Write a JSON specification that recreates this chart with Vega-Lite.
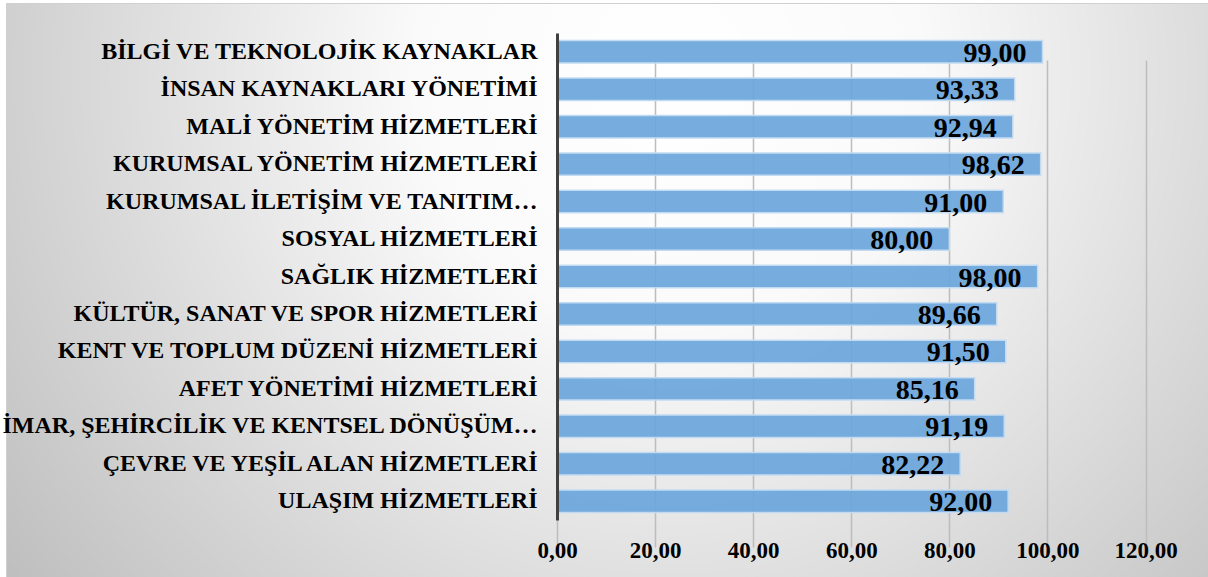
{
  "$schema": "https://vega.github.io/schema/vega-lite/v6.json",
  "width": 1202,
  "height": 574,
  "autosize": "none",
  "padding": {"left": 6, "top": 3, "right": 0, "bottom": 0},
  "background": "#ffffff",
  "view": {
    "fill": {
      "gradient": "radial",
      "x1": 0.55, "y1": 0.32, "r1": 0,
      "x2": 0.55, "y2": 0.32, "r2": 0.7,
      "stops": [
        {"offset": 0, "color": "#ffffff"},
        {"offset": 0.3, "color": "#fafafa"},
        {"offset": 1, "color": "#bdbdbd"}
      ]
    },
    "stroke": "#d0d0d0",
    "strokeWidth": 1
  },
  "data": {
    "values": [
      {"kategori": "BİLGİ VE TEKNOLOJİK KAYNAKLAR", "deger": 99.00},
      {"kategori": "İNSAN KAYNAKLARI YÖNETİMİ", "deger": 93.33},
      {"kategori": "MALİ YÖNETİM HİZMETLERİ", "deger": 92.94},
      {"kategori": "KURUMSAL YÖNETİM HİZMETLERİ", "deger": 98.62},
      {"kategori": "KURUMSAL İLETİŞİM VE TANITIM…", "deger": 91.00},
      {"kategori": "SOSYAL HİZMETLERİ", "deger": 80.00},
      {"kategori": "SAĞLIK HİZMETLERİ", "deger": 98.00},
      {"kategori": "KÜLTÜR, SANAT VE SPOR HİZMETLERİ", "deger": 89.66},
      {"kategori": "KENT VE TOPLUM DÜZENİ HİZMETLERİ", "deger": 91.50},
      {"kategori": "AFET YÖNETİMİ HİZMETLERİ", "deger": 85.16},
      {"kategori": "İMAR, ŞEHİRCİLİK VE KENTSEL DÖNÜŞÜM…", "deger": 91.19},
      {"kategori": "ÇEVRE VE YEŞİL ALAN HİZMETLERİ", "deger": 82.22},
      {"kategori": "ULAŞIM HİZMETLERİ", "deger": 92.00}
    ]
  },
  "encoding": {
    "y": {
      "field": "kategori",
      "type": "nominal",
      "sort": null,
      "scale": {"range": [30, 517], "paddingInner": 0.4, "paddingOuter": 0.2},
      "axis": {
        "title": null,
        "orient": "left",
        "offset": -551,
        "ticks": false,
        "domain": true,
        "domainColor": "#404040",
        "domainWidth": 3,
        "labelPadding": 20,
        "labelFont": "Liberation Serif",
        "labelFontWeight": "bold",
        "labelFontSize": 24,
        "labelColor": "#000000",
        "labelLimit": 700,
        "zindex": 1
      }
    },
    "x": {
      "field": "deger",
      "type": "quantitative",
      "scale": {"domain": [0, 120], "range": [551, 1139.5], "nice": false, "zero": true},
      "axis": {
        "title": null,
        "orient": "bottom",
        "offset": -57,
        "values": [0, 20, 40, 60, 80, 100, 120],
        "format": ".2f",
        "ticks": false,
        "domain": false,
        "grid": true,
        "gridColor": "#bdbdbd",
        "gridWidth": 1.5,
        "labelFlush": false,
        "labelOverlap": false,
        "labelPadding": 19,
        "labelFont": "Liberation Serif",
        "labelFontWeight": "bold",
        "labelFontSize": 23,
        "labelColor": "#000000",
        "zindex": 0
      }
    }
  },
  "layer": [
    {
      "mark": {
        "type": "bar",
        "fill": "#6aa5db",
        "fillOpacity": 0.92,
        "stroke": "#c3dbf1",
        "strokeWidth": 1.5
      }
    },
    {
      "mark": {
        "type": "text",
        "align": "right",
        "baseline": "middle",
        "dx": -16,
        "dy": 2,
        "font": "Liberation Serif",
        "fontWeight": "bold",
        "fontSize": 28,
        "color": "#000000"
      },
      "encoding": {
        "text": {"field": "deger", "type": "quantitative", "format": ".2f"}
      }
    }
  ],
  "config": {
    "locale": {
      "number": {"decimal": ",", "thousands": ".", "grouping": [3], "currency": ["", " TL"]}
    }
  }
}
